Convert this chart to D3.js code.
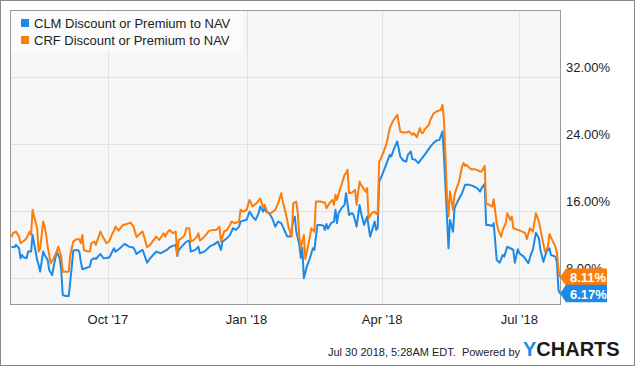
<!DOCTYPE html>
<html>
<head>
<meta charset="utf-8">
<script src="https://cdn.jsdelivr.net/npm/d3@7"></script>
<style>
  body { margin: 0; background: #fff; }
  svg text { font-family: "Liberation Sans", Arial, sans-serif; }
</style>
</head>
<body>
<div id="chart"></div>
<script>
// series names + colors
const seriesNames = ["CLM Discount or Premium to NAV", "CRF Discount or Premium to NAV"];
const seriesColors = ["#1c8ae6", "#fc7d0b"];

// x ticks (first of quarter) and y ticks (%)
const xTickDates = ["2017-10-01", "2018-01-01", "2018-04-01", "2018-07-01"];
const yTickValues = [8, 16, 24, 32];

// CLM premium / discount
const clmData = [
  ["2017-07-29",11.77],["2017-07-31",11.70],["2017-08-01",11.98],["2017-08-03",11.58],["2017-08-04",10.39],
  ["2017-08-05",10.78],["2017-08-06",10.51],["2017-08-08",10.39],["2017-08-09",11.18],["2017-08-11",11.18],
  ["2017-08-12",13.17],["2017-08-13",12.18],["2017-08-15",10.19],["2017-08-16",9.59],["2017-08-17",8.79],
  ["2017-08-19",11.18],["2017-08-20",10.78],["2017-08-22",10.19],["2017-08-23",8.99],["2017-08-25",8.39],
  ["2017-08-26",9.39],["2017-08-28",11.18],["2017-08-30",10.39],["2017-08-31",8.99],["2017-09-01",6.01],
  ["2017-09-03",5.89],["2017-09-05",5.89],["2017-09-07",9.39],["2017-09-08",11.30],["2017-09-11",11.38],
  ["2017-09-12",11.18],["2017-09-13",9.98],["2017-09-14",9.07],["2017-09-16",9.19],["2017-09-19",9.39],
  ["2017-09-20",10.19],["2017-09-22",10.39],["2017-09-23",10.30],["2017-09-26",10.90],["2017-09-28",10.39],
  ["2017-09-30",10.42],["2017-10-02",10.51],["2017-10-05",11.58],["2017-10-06",11.18],["2017-10-09",11.58],
  ["2017-10-12",12.10],["2017-10-15",11.77],["2017-10-17",11.70],["2017-10-18",11.65],["2017-10-20",10.90],
  ["2017-10-22",11.18],["2017-10-24",11.38],["2017-10-27",9.86],["2017-10-29",10.39],["2017-10-31",10.78],
  ["2017-11-02",11.18],["2017-11-05",10.99],["2017-11-07",11.18],["2017-11-09",11.38],["2017-11-11",11.70],
  ["2017-11-13",11.86],["2017-11-15",11.98],["2017-11-16",10.66],["2017-11-17",11.38],["2017-11-20",11.98],
  ["2017-11-22",12.37],["2017-11-24",12.49],["2017-11-25",11.18],["2017-11-28",11.38],["2017-11-30",11.77],
  ["2017-12-01",10.99],["2017-12-04",11.18],["2017-12-08",11.86],["2017-12-10",11.98],["2017-12-13",12.37],
  ["2017-12-15",11.38],["2017-12-16",12.37],["2017-12-19",12.78],["2017-12-21",13.17],["2017-12-23",13.97],
  ["2017-12-25",13.77],["2017-12-27",14.16],["2017-12-28",14.76],["2017-12-30",14.88],["2018-01-01",14.96],
  ["2018-01-03",15.95],["2018-01-05",15.36],["2018-01-07",14.96],["2018-01-09",15.76],["2018-01-10",16.55],
  ["2018-01-12",15.95],["2018-01-13",16.48],["2018-01-14",15.95],["2018-01-16",15.76],["2018-01-18",15.16],
  ["2018-01-20",14.16],["2018-01-22",14.76],["2018-01-24",14.57],["2018-01-26",13.77],["2018-01-28",12.97],
  ["2018-01-30",12.97],["2018-02-01",14.96],["2018-02-02",15.36],["2018-02-03",13.56],["2018-02-05",11.98],
  ["2018-02-06",10.42],["2018-02-07",11.62],["2018-02-08",8.00],["2018-02-10",9.39],["2018-02-12",10.39],
  ["2018-02-14",11.58],["2018-02-15",11.38],["2018-02-17",14.36],["2018-02-19",14.36],["2018-02-21",14.28],
  ["2018-02-22",13.77],["2018-02-23",14.48],["2018-02-24",13.89],["2018-02-26",14.57],["2018-02-28",14.76],
  ["2018-03-01",16.16],["2018-03-02",14.57],["2018-03-03",15.76],["2018-03-05",16.36],["2018-03-07",16.75],
  ["2018-03-08",18.15],["2018-03-10",15.56],["2018-03-12",15.76],["2018-03-13",15.56],["2018-03-15",14.16],
  ["2018-03-17",16.75],["2018-03-18",15.76],["2018-03-20",14.36],["2018-03-22",15.36],["2018-03-24",12.97],
  ["2018-03-26",14.16],["2018-03-27",14.76],["2018-03-28",13.77],["2018-03-29",13.97],["2018-03-30",19.53],
  ["2018-04-01",20.33],["2018-04-04",21.73],["2018-04-06",22.72],["2018-04-07",22.52],["2018-04-09",23.52],
  ["2018-04-11",24.31],["2018-04-13",22.52],["2018-04-15",22.04],["2018-04-17",21.92],["2018-04-18",22.72],
  ["2018-04-20",23.12],["2018-04-21",22.21],["2018-04-23",22.13],["2018-04-25",21.73],["2018-04-27",22.21],
  ["2018-04-30",22.93],["2018-05-03",23.71],["2018-05-05",24.12],["2018-05-07",24.43],["2018-05-09",24.51],
  ["2018-05-11",25.50],["2018-05-12",22.52],["2018-05-14",15.36],["2018-05-15",11.58],["2018-05-16",14.96],
  ["2018-05-18",13.56],["2018-05-19",16.36],["2018-05-21",17.15],["2018-05-24",18.15],["2018-05-26",19.14],
  ["2018-05-29",19.14],["2018-05-31",19.02],["2018-06-03",18.75],["2018-06-05",18.34],["2018-06-06",18.75],
  ["2018-06-08",19.26],["2018-06-09",14.36],["2018-06-11",14.36],["2018-06-13",14.24],["2018-06-14",14.57],
  ["2018-06-16",10.19],["2018-06-18",9.86],["2018-06-20",10.78],["2018-06-21",10.58],["2018-06-23",11.77],
  ["2018-06-25",11.58],["2018-06-27",11.38],["2018-06-28",9.86],["2018-06-30",11.46],["2018-07-01",10.99],
  ["2018-07-04",10.58],["2018-07-07",9.79],["2018-07-09",10.99],["2018-07-10",11.38],["2018-07-12",13.44],
  ["2018-07-14",12.78],["2018-07-15",11.38],["2018-07-17",9.98],["2018-07-19",11.18],["2018-07-21",11.58],
  ["2018-07-22",10.78],["2018-07-25",10.58],["2018-07-26",9.79],["2018-07-27",6.60],["2018-07-28",6.17]
];

// CRF premium / discount
const crfData = [
  ["2017-07-29",12.90],["2017-07-30",13.37],["2017-08-01",13.56],["2017-08-03",12.97],["2017-08-04",12.18],
  ["2017-08-07",12.57],["2017-08-08",12.78],["2017-08-09",13.17],["2017-08-10",13.56],["2017-08-11",13.17],
  ["2017-08-12",16.16],["2017-08-13",15.36],["2017-08-15",13.97],["2017-08-16",11.18],["2017-08-17",11.58],
  ["2017-08-19",14.76],["2017-08-20",14.16],["2017-08-21",13.17],["2017-08-22",11.77],["2017-08-24",9.79],
  ["2017-08-26",10.39],["2017-08-28",11.18],["2017-08-29",11.77],["2017-08-30",11.18],["2017-08-31",10.58],
  ["2017-09-01",8.79],["2017-09-03",8.79],["2017-09-05",8.79],["2017-09-06",10.78],["2017-09-08",12.37],
  ["2017-09-10",12.66],["2017-09-12",12.66],["2017-09-13",12.18],["2017-09-14",13.17],["2017-09-15",11.38],
  ["2017-09-16",11.29],["2017-09-19",11.18],["2017-09-20",12.18],["2017-09-22",12.37],["2017-09-23",11.98],
  ["2017-09-26",13.56],["2017-09-27",13.17],["2017-09-30",12.18],["2017-10-02",12.45],["2017-10-04",13.37],
  ["2017-10-05",13.65],["2017-10-06",14.16],["2017-10-08",13.68],["2017-10-11",14.36],["2017-10-13",14.45],
  ["2017-10-16",14.64],["2017-10-18",14.16],["2017-10-20",12.90],["2017-10-22",13.29],["2017-10-24",13.56],
  ["2017-10-27",11.70],["2017-10-29",11.98],["2017-10-31",12.49],["2017-11-02",12.97],["2017-11-04",12.57],
  ["2017-11-07",13.37],["2017-11-08",12.97],["2017-11-09",13.37],["2017-11-11",13.77],["2017-11-13",13.37],
  ["2017-11-15",13.56],["2017-11-16",10.78],["2017-11-17",12.57],["2017-11-19",12.78],["2017-11-21",13.17],
  ["2017-11-22",13.97],["2017-11-24",13.97],["2017-11-25",12.37],["2017-11-27",12.57],["2017-11-29",12.97],
  ["2017-11-30",13.37],["2017-12-01",12.49],["2017-12-03",12.78],["2017-12-05",13.17],["2017-12-07",13.65],
  ["2017-12-10",13.77],["2017-12-12",13.77],["2017-12-14",14.16],["2017-12-15",12.37],["2017-12-17",13.56],
  ["2017-12-19",13.77],["2017-12-21",14.36],["2017-12-22",14.76],["2017-12-24",14.57],["2017-12-27",14.76],
  ["2017-12-28",16.16],["2017-12-30",15.95],["2018-01-01",16.16],["2018-01-03",17.35],["2018-01-05",16.55],
  ["2018-01-08",17.03],["2018-01-10",17.55],["2018-01-12",16.48],["2018-01-13",16.75],["2018-01-15",15.76],
  ["2018-01-17",15.76],["2018-01-20",16.16],["2018-01-22",16.96],["2018-01-24",18.15],["2018-01-25",17.15],
  ["2018-01-27",15.77],["2018-01-29",13.97],["2018-01-31",12.97],["2018-02-01",16.96],["2018-02-03",17.15],
  ["2018-02-04",15.76],["2018-02-05",12.97],["2018-02-06",11.62],["2018-02-08",13.17],["2018-02-09",10.30],
  ["2018-02-10",11.14],["2018-02-12",12.97],["2018-02-13",13.97],["2018-02-15",13.56],["2018-02-16",17.15],
  ["2018-02-19",17.15],["2018-02-21",17.03],["2018-02-22",17.03],["2018-02-23",16.36],["2018-02-25",16.96],
  ["2018-02-27",17.35],["2018-02-28",16.75],["2018-03-01",17.95],["2018-03-02",17.35],["2018-03-04",18.63],
  ["2018-03-05",19.14],["2018-03-07",20.33],["2018-03-08",20.54],["2018-03-09",20.93],["2018-03-10",18.15],
  ["2018-03-12",18.22],["2018-03-14",18.54],["2018-03-15",16.75],["2018-03-17",19.53],["2018-03-18",19.14],
  ["2018-03-21",18.34],["2018-03-22",18.75],["2018-03-23",15.16],["2018-03-25",15.76],["2018-03-27",15.95],
  ["2018-03-28",15.76],["2018-03-29",15.56],["2018-03-30",21.92],["2018-03-31",22.21],["2018-04-02",23.12],
  ["2018-04-04",24.12],["2018-04-06",25.91],["2018-04-08",26.70],["2018-04-11",27.50],["2018-04-13",25.50],
  ["2018-04-15",25.38],["2018-04-17",25.38],["2018-04-19",25.50],["2018-04-21",25.11],["2018-04-22",25.31],
  ["2018-04-24",24.84],["2018-04-26",25.91],["2018-04-27",25.38],["2018-04-28",25.31],["2018-04-29",25.71],
  ["2018-05-02",26.30],["2018-05-03",26.90],["2018-05-05",27.62],["2018-05-07",27.89],["2018-05-10",28.09],
  ["2018-05-11",28.69],["2018-05-12",26.90],["2018-05-13",22.52],["2018-05-14",17.74],["2018-05-15",15.36],
  ["2018-05-16",18.34],["2018-05-18",16.16],["2018-05-19",17.95],["2018-05-20",18.54],["2018-05-22",19.53],
  ["2018-05-24",21.33],["2018-05-25",21.73],["2018-05-26",21.41],["2018-05-27",21.53],["2018-05-29",21.13],
  ["2018-05-30",21.01],["2018-06-01",21.01],["2018-06-03",20.93],["2018-06-05",20.73],["2018-06-06",20.73],
  ["2018-06-08",21.41],["2018-06-09",16.96],["2018-06-11",16.75],["2018-06-13",16.55],["2018-06-14",17.43],
  ["2018-06-16",14.57],["2018-06-17",13.77],["2018-06-19",12.97],["2018-06-20",13.77],["2018-06-22",14.57],
  ["2018-06-23",15.76],["2018-06-25",14.96],["2018-06-26",15.36],["2018-06-27",13.97],["2018-06-30",13.77],
  ["2018-07-03",13.56],["2018-07-05",13.37],["2018-07-06",12.66],["2018-07-08",13.97],["2018-07-10",13.56],
  ["2018-07-12",15.76],["2018-07-14",14.76],["2018-07-16",12.97],["2018-07-18",11.18],["2018-07-20",11.77],
  ["2018-07-21",13.29],["2018-07-23",12.49],["2018-07-25",11.77],["2018-07-26",10.98],["2018-07-27",9.00],
  ["2018-07-28",8.11]
];

const footerText = "Jul 30 2018, 5:28AM EDT.  Powered by";

const width = 635, height = 366;
const plot = {left: 10, top: 10, right: 560, bottom: 304};

const parse = d3.timeParse("%Y-%m-%d");
const series = [clmData, crfData].map((arr, i) => ({
  name: seriesNames[i],
  color: seriesColors[i],
  values: arr.map(d => ({date: parse(d[0]), value: d[1]}))
}));

const svg = d3.select("#chart").append("svg")
  .attr("width", width)
  .attr("height", height);

// outer frame
svg.append("rect")
  .attr("x", 0.5).attr("y", 0.5)
  .attr("width", width - 1).attr("height", height - 1)
  .attr("fill", "#fff").attr("stroke", "#8a8a8a");

let x = d3.scaleTime()
  .domain([parse("2017-07-28"), parse("2018-07-28")])
  .range([plot.left, plot.right]);

let y = d3.scaleLinear()
  .domain([4.93, 40])
  .range([plot.bottom, plot.top]);

// plot background
svg.append("rect")
  .attr("x", plot.left).attr("y", plot.top)
  .attr("width", plot.right - plot.left).attr("height", plot.bottom - plot.top)
  .attr("fill", "#f6f6f6");

// grid
svg.append("g").selectAll("line")
  .data(yTickValues)
  .join("line")
  .attr("x1", plot.left).attr("x2", plot.right)
  .attr("y1", d => Math.round(y(d)) + 0.5).attr("y2", d => Math.round(y(d)) + 0.5)
  .attr("stroke", "#e1e1e1");

const xTicks = xTickDates.map(parse);
svg.append("g").selectAll("line")
  .data(xTicks)
  .join("line")
  .attr("x1", d => Math.round(x(d)) + 0.5).attr("x2", d => Math.round(x(d)) + 0.5)
  .attr("y1", plot.top).attr("y2", plot.bottom)
  .attr("stroke", "#e1e1e1");

// lines
const line = d3.line()
  .x(d => x(d.date))
  .y(d => y(d.value));

svg.append("g").selectAll("path")
  .data(series)
  .join("path")
  .attr("d", d => line(d.values))
  .attr("fill", "none")
  .attr("stroke", d => d.color)
  .attr("stroke-width", 2)
  .attr("stroke-linejoin", "round");

// plot frame
svg.append("rect")
  .attr("x", plot.left + 0.5).attr("y", plot.top + 0.5)
  .attr("width", plot.right - plot.left).attr("height", plot.bottom - plot.top)
  .attr("fill", "none").attr("stroke", "#9a9a9a");

// legend box
svg.append("rect")
  .attr("x", plot.left + 1).attr("y", plot.top + 1)
  .attr("width", 232).attr("height", 42)
  .attr("fill", "#fff").attr("opacity", 0.55);

let legend = svg.append("g").selectAll("g")
  .data(series)
  .join("g")
  .attr("transform", (d, i) => `translate(21,${19 + i * 17})`);
legend.append("rect")
  .attr("width", 8).attr("height", 8)
  .attr("fill", d => d.color);
legend.append("text")
  .attr("x", 13).attr("y", 9)
  .style("font-size", "13px")
  .attr("fill", "#222")
  .text(d => d.name);

// y labels (sit above gridline)
svg.append("g").selectAll("text")
  .data(yTickValues)
  .join("text")
  .attr("x", 566)
  .attr("y", d => y(d) - 5)
  .style("font-size", "13px")
  .attr("fill", "#222")
  .text(d => d3.format(".2f")(d) + "%");

// x labels
svg.append("g").selectAll("text")
  .data(xTicks)
  .join("text")
  .attr("x", d => x(d))
  .attr("y", 324)
  .attr("text-anchor", "middle")
  .style("font-size", "13px")
  .attr("fill", "#222")
  .text(d3.timeFormat("%b '%y"));

// end-value tags
const tagH = 17.5;
let tags = svg.append("g").selectAll("g")
  .data(series.slice().reverse())
  .join("g")
  .attr("transform", d => `translate(${plot.right},${y(d.values[d.values.length - 1].value)})`);
tags.append("path")
  .attr("d", `M0,0 L6,${-tagH / 2} L47,${-tagH / 2} L47,${tagH / 2} L6,${tagH / 2} Z`)
  .attr("fill", d => d.color);
tags.append("text")
  .attr("x", 10).attr("y", 5)
  .style("font-size", "13px").style("font-weight", "bold")
  .attr("fill", "#fff")
  .text(d => d3.format(".2f")(d.values[d.values.length - 1].value) + "%");

// footer
svg.append("text")
  .attr("x", 520).attr("y", 356)
  .attr("text-anchor", "end")
  .style("font-size", "11px")
  .attr("fill", "#222")
  .attr("xml:space", "preserve")
  .text(footerText);

let logo = svg.append("text")
  .attr("x", 523).attr("y", 356)
  .style("font-size", "20px").style("font-weight", "bold");
logo.append("tspan").attr("fill", "#1c8ae6").text("Y");
logo.append("tspan").attr("fill", "#1b1b1b").text("CHARTS");
</script>
</body>
</html>
